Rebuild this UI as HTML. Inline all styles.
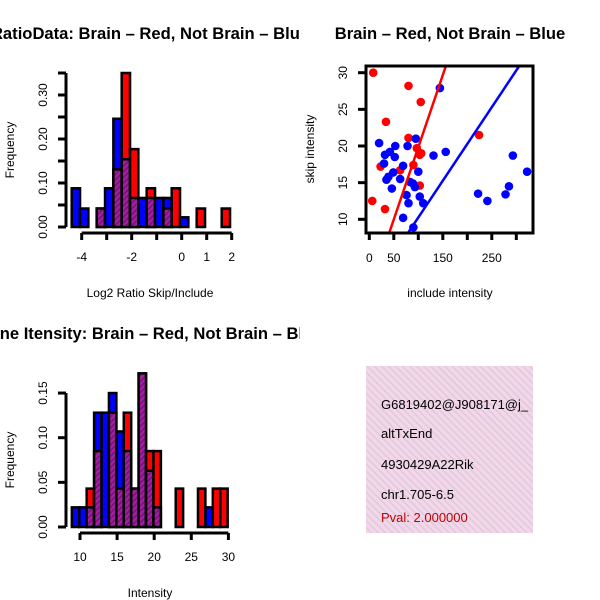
<!DOCTYPE html>
<html><head><meta charset="utf-8"><style>
html,body{margin:0;padding:0;background:#fff;}
svg{display:block;font-family:"Liberation Sans",sans-serif;}
</style></head><body>
<svg id="c" width="600" height="600" viewBox="0 0 600 600" xmlns="http://www.w3.org/2000/svg">
<defs>
<pattern id="hatch" width="4" height="4" patternUnits="userSpaceOnUse" patternTransform="rotate(45)">
<rect width="4" height="4" fill="#a020a0"/><rect width="1.5" height="4" fill="#7a107a"/>
</pattern>
<pattern id="pink" width="5" height="5" patternUnits="userSpaceOnUse" patternTransform="rotate(-45)">
<rect width="5" height="5" fill="#f6d4ee"/><rect width="1.5" height="5" fill="#d8cfd0"/>
</pattern>
<clipPath id="scClip"><rect x="366" y="66" width="167" height="167"/></clipPath>
<clipPath id="boxClip"><rect x="366" y="366" width="167" height="167"/></clipPath>
<clipPath id="leftClip"><rect x="0" y="0" width="300" height="600"/></clipPath>
</defs>
<g id="g1" clip-path="url(#leftClip)"></g><g id="g2" clip-path="url(#leftClip)"></g><g id="g3"></g>
<g>
<rect x="366" y="366" width="167" height="167" fill="url(#pink)"/>
<g clip-path="url(#boxClip)" font-size="13">
<text x="381" y="409">G6819402@J908171@j_</text>
<text x="381" y="438">altTxEnd</text>
<text x="381" y="469">4930429A22Rik</text>
<text x="381" y="499">chr1.705-6.5</text>
<text x="381" y="522" fill="#c00000">Pval: 2.000000</text>
</g></g>
</svg>
<script>
// ---- data ----
const ratioBinStart = -4.4;
const ratioBinWidth = 1/3;
const ratioBlue = [0.088,0.042,0,0.042,0.088,0.246,0.154,0.066,0.066,0.066,0.066,0.066,0,0.022,0,0,0,0,0,0];
const ratioRed  = [0,0,0,0.042,0,0.131,0.35,0.177,0,0.088,0,0.042,0.088,0,0,0.042,0,0,0.042,0];
const ratioXTicks = [-4,-3,-2,-1,0,1,2];
const ratioXLabels = ["-4","","-2","","0","1","2"];
const ratioYTicks = [0,0.05,0.10,0.15,0.20,0.25,0.30,0.35];
const ratioYLabels = ["0.00","","0.10","","0.20","","0.30",""];

const intBinStart = 8.9;
const intBinWidth = 1;
const intBlue = [0.022,0.022,0.022,0.128,0.128,0.15,0.107,0.085,0.043,0.172,0.063,0.022,0,0,0,0,0,0,0.022,0,0];
const intRed  = [0,0,0.043,0.085,0,0.128,0.043,0.128,0.043,0.172,0.085,0.085,0,0,0.043,0,0,0.043,0,0.043,0.043];
const intXTicks = [10,15,20,25,30];
const intYTicks = [0,0.05,0.10,0.15];
const intYLabels = ["0.00","0.05","0.10","0.15"];

const redX = [8,80,105,34,80,97,103,106,23,90,63,103,224,6,32];
const redY = [30,28.2,26,23.3,21.1,19.7,18.8,19,17.2,17.4,16.7,14.6,21.5,12.5,11.4];
const blueX = [144,20,53,95,78,42,32,52,131,156,30,69,49,100,39,35,63,83,46,93,76,103,110,80,293,322,285,278,222,241,69,90,89];
const blueY = [27.9,20.4,20,21,20,19.2,18.8,18.5,18.7,19.2,17.6,17.3,16.4,16.5,15.8,15.4,15.5,15.1,14.2,14.4,13.3,13.1,12.2,12.2,18.7,16.5,14.5,13.4,13.5,12.5,10.2,8.9,14.9];
const redFit = [0.13,0.197];
const blueFit = [0.22,0.1003];
const scXTicks = [0,50,100,150,200,250,300];
const scXLabels = ["0","50","","150","","250",""];
const scYTicks = [10,15,20,25,30];

// ---- helpers ----
const NS="http://www.w3.org/2000/svg";
function mk(parent,tag,attrs,txt){const e=document.createElementNS(NS,tag);for(const k in attrs)e.setAttribute(k,attrs[k]);if(txt!==undefined)e.textContent=txt;parent.appendChild(e);return e;}

function histogram(g,o){
  const sx=v=>o.x0px+(v-o.x0)*o.pxPerX, sy=v=>o.basePx-v*o.pxPerY;
  const tt=mk(g,"text",{x:150,y:o.titleY,"text-anchor":"middle","font-size":16.6,"font-weight":"bold"},o.title);
  
  for(let i=0;i<o.blue.length;i++){
    const b=o.blue[i], r=o.red[i];
    if(b===0&&r===0)continue;
    const x1=sx(o.binStart+i*o.binW), x2=sx(o.binStart+(i+1)*o.binW);
    const mx=Math.max(b,r), mn=Math.min(b,r);
    const big=mk(g,"rect",{x:x1,y:sy(mx),width:x2-x1,height:sy(0)-sy(mx),fill:b>=r?"#0000ff":"#ff0000",stroke:"#000","stroke-width":2.5});
    
    
    if(mn>0){
      const ov=mk(g,"rect",{x:x1,y:sy(mn),width:x2-x1,height:sy(0)-sy(mn),fill:"url(#hatch)",stroke:"#000","stroke-width":2.5});
      
      
    }
  }
  const yt=o.yTicks;
  const ya=mk(g,"line",{x1:66,x2:66,y1:sy(yt[yt.length-1]),y2:sy(0),stroke:"#000","stroke-width":3});
  
  
  yt.forEach((v,i)=>{
    mk(g,"line",{x1:58,x2:66,y1:sy(v),y2:sy(v),stroke:"#000","stroke-width":3});
    if(o.yLabels[i]){const t=mk(g,"text",{x:47,y:sy(v),"text-anchor":"middle","font-size":12,transform:`rotate(-90 47 ${sy(v)})`},o.yLabels[i]);
      }
  });
  const xt=o.xTicks;
  const xa=mk(g,"line",{x1:sx(xt[0]),x2:sx(xt[xt.length-1]),y1:o.axisY,y2:o.axisY,stroke:"#000","stroke-width":3});
  
  
  xt.forEach((v,i)=>{
    mk(g,"line",{x1:sx(v),x2:sx(v),y1:o.axisY,y2:o.axisY+7,stroke:"#000","stroke-width":3});
    if(o.xLabels[i]){const t=mk(g,"text",{x:sx(v),y:o.axisY+28,"text-anchor":"middle","font-size":12},o.xLabels[i]);
      }
  });
  const xl=mk(g,"text",{x:150,y:o.axisY+64,"text-anchor":"middle","font-size":12},o.xTitle);
  
  const cy=(sy(0)+sy(yt[yt.length-1]))/2;
  const yl=mk(g,"text",{x:14,y:cy,"text-anchor":"middle","font-size":12,transform:`rotate(-90 14 ${cy})`},"Frequency");
  
}

const g1=document.getElementById("g1");


histogram(g1,{title:"RatioData: Brain – Red, Not Brain – Blue",titleY:39,x0:0,x0px:181.7,pxPerX:25,basePx:227,pxPerY:440,
  binStart:ratioBinStart,binW:ratioBinWidth,blue:ratioBlue,red:ratioRed,yTicks:ratioYTicks,yLabels:ratioYLabels,
  xTicks:ratioXTicks,xLabels:ratioXLabels,axisY:233,xTitle:"Log2 Ratio Skip/Include"});

const g2=document.getElementById("g2");


histogram(g2,{title:"Gene Itensity: Brain – Red, Not Brain – Blue",titleY:339,x0:10,x0px:80,pxPerX:7.42,basePx:527,pxPerY:893,
  binStart:intBinStart,binW:intBinWidth,blue:intBlue,red:intRed,yTicks:intYTicks,yLabels:intYLabels,
  xTicks:intXTicks,xLabels:intXTicks.map(String),axisY:533,xTitle:"Intensity"});

const g3=document.getElementById("g3");


const sX=v=>369.3+v*0.49, sY=v=>72.7+(30-v)*7.33;
const st=mk(g3,"text",{x:450,y:39,"text-anchor":"middle","font-size":16.6,"font-weight":"bold"},"Brain – Red, Not Brain – Blue");

const pts=mk(g3,"g",{"clip-path":"url(#scClip)"});
redX.forEach((x,i)=>{const c=mk(pts,"circle",{cx:sX(x),cy:sY(redY[i]),r:4.3,fill:"#ff0000"});
  });
blueX.forEach((x,i)=>{const c=mk(pts,"circle",{cx:sX(x),cy:sY(blueY[i]),r:4.3,fill:"#0000ff"});
  });
[[redFit,"#ff0000","red-fit-line"],[blueFit,"#0000ff","blue-fit-line"]].forEach(([f,col,n])=>{
  const l=mk(pts,"line",{x1:sX(-20),y1:sY(f[0]+f[1]*-20),x2:sX(400),y2:sY(f[0]+f[1]*400),stroke:col,"stroke-width":2.5});
  
});
const fr=mk(g3,"rect",{x:366,y:66,width:167,height:167,fill:"none",stroke:"#000","stroke-width":3});

scXTicks.forEach((v,i)=>{
  mk(g3,"line",{x1:sX(v),x2:sX(v),y1:233,y2:240,stroke:"#000","stroke-width":3});
  if(scXLabels[i]){const t=mk(g3,"text",{x:sX(v),y:262,"text-anchor":"middle","font-size":12},scXLabels[i]);
    }
});
scYTicks.forEach(v=>{
  mk(g3,"line",{x1:358,x2:366,y1:sY(v),y2:sY(v),stroke:"#000","stroke-width":3});
  const t=mk(g3,"text",{x:347,y:sY(v),"text-anchor":"middle","font-size":12,transform:`rotate(-90 347 ${sY(v)})`},String(v));
  
});
const sxl=mk(g3,"text",{x:450,y:297,"text-anchor":"middle","font-size":12},"include intensity");

const syl=mk(g3,"text",{x:314,y:149,"text-anchor":"middle","font-size":12,transform:"rotate(-90 314 149)"},"skip intensity");

</script>
</body></html>
